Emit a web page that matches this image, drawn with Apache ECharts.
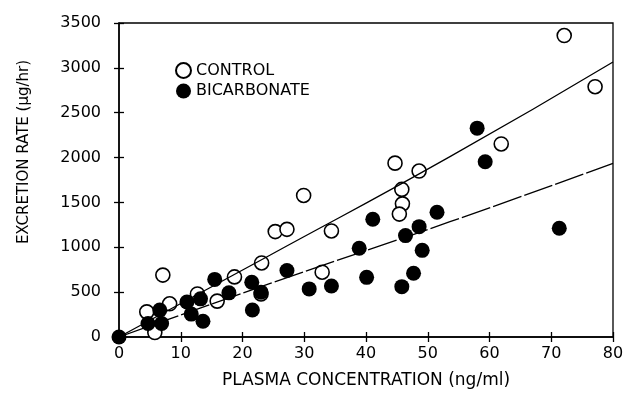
<!DOCTYPE html>
<html>
<head>
<meta charset="utf-8">
<script src="https://cdn.jsdelivr.net/npm/echarts@6/dist/echarts.min.js"></script>
<style>
html,body{margin:0;padding:0;background:#fff;}
#c{width:631px;height:394px;}
</style>
</head>
<body>
<div id="c"></div>
<script>
// Data
var controlData = [
  [4.5, 280], [5.8, 50], [7.1, 690], [8.2, 370], [12.7, 480], [15.9, 400],
  [18.7, 670], [23.1, 825], [23.0, 480], [25.3, 1175], [27.2, 1200], [29.9, 1578],
  [32.9, 722], [34.4, 1182], [44.7, 1938], [45.8, 1645], [45.9, 1484], [45.4, 1370],
  [48.6, 1850], [61.9, 2152], [72.1, 3360], [77.1, 2790]
];
var bicarbData = [
  [0, 0], [4.7, 150], [6.6, 300], [6.9, 150], [11.0, 390], [11.7, 255],
  [13.6, 176], [13.2, 425], [15.5, 642], [17.8, 492], [21.5, 610], [21.6, 301],
  [23.0, 500], [27.2, 742], [30.8, 536], [34.4, 569], [38.9, 989], [40.1, 665],
  [41.1, 1313], [45.8, 561], [46.4, 1130], [47.7, 710], [48.6, 1230], [49.1, 966],
  [51.5, 1390], [58.0, 2328], [59.3, 1954], [71.3, 1212]
];
var controlFit = [[0, 0], [24.5, 914], [53.6, 2010], [80, 3066]];
var bicarbFit = [[0, 0], [24.5, 598], [53.6, 1285], [80, 1936]];
var xTicks = [0, 10, 20, 30, 40, 50, 60, 70, 80];
var yTicks = [0, 500, 1000, 1500, 2000, 2500, 3000, 3500];
var seriesNames = ['CONTROL', 'BICARBONATE'];
var xTitle = 'PLASMA CONCENTRATION (ng/ml)';
var yTitle = 'EXCRETION RATE (\u03bcg/hr)';

var FONT = 'DejaVu Sans';
var chart = echarts.init(document.getElementById('c'), null, {renderer: 'canvas'});

function xAx(inner) {
  return {
    type: 'value', min: xTicks[0], max: xTicks[xTicks.length - 1], interval: xTicks[1] - xTicks[0],
    position: 'bottom',
    axisLine: {show: !inner, onZero: false, lineStyle: {color: '#000', width: 1.5}},
    axisTick: {show: true, inside: inner, length: 5, lineStyle: {color: '#000', width: 1.3}},
    axisLabel: {show: !inner, margin: 9, color: '#000', fontFamily: FONT, fontSize: 16,
      formatter: function (v) { return String(v); }},
    splitLine: {show: false}
  };
}
function yAx(inner) {
  return {
    type: 'value', min: yTicks[0], max: yTicks[yTicks.length - 1], interval: yTicks[1] - yTicks[0],
    position: 'left',
    axisLine: {show: !inner, onZero: false, lineStyle: {color: '#000', width: 1.5}},
    axisTick: {show: true, inside: inner, length: 5, lineStyle: {color: '#000', width: 1.3}},
    axisLabel: {show: !inner, margin: 18, color: '#000', fontFamily: FONT, fontSize: 16,
      formatter: function (v) { return String(v); }},
    splitLine: {show: false}
  };
}

chart.setOption({
  animation: false,
  backgroundColor: '#fff',
  grid: {left: 119, right: 18, top: 23, bottom: 57, show: true, borderColor: '#000', borderWidth: 1.3, backgroundColor: 'transparent'},
  xAxis: [xAx(false), xAx(true)],
  yAxis: [yAx(false), yAx(true)],
  legend: {
    orient: 'vertical', left: 170, top: 57, itemGap: 4, itemWidth: 15, itemHeight: 15,
    icon: 'circle',
    data: seriesNames,
    textStyle: {color: '#000', fontFamily: FONT, fontSize: 16}
  },
  graphic: [
    {type: 'text', x: 366, y: 381, style: {text: xTitle, fill: '#000', font: '17px "DejaVu Sans"', textAlign: 'center', textVerticalAlign: 'middle'}},
    {type: 'text', x: 24, y: 152, rotation: Math.PI / 2, style: {text: yTitle, fill: '#000', font: '15px "DejaVu Sans"', textAlign: 'center', textVerticalAlign: 'middle'}}
  ],
  series: [
    {
      name: seriesNames[0], type: 'scatter', data: controlData, symbol: 'circle', symbolSize: 14, z: 2,
      itemStyle: {color: '#fff', borderColor: '#000', borderWidth: 1.6, opacity: 1}
    },
    {
      name: seriesNames[1], type: 'scatter', data: bicarbData, symbol: 'circle', symbolSize: 15, z: 3,
      itemStyle: {color: '#000', borderColor: '#000', borderWidth: 0, opacity: 1}
    },
    {
      type: 'line', data: controlFit, smooth: true, showSymbol: false, symbol: 'none', z: 4,
      lineStyle: {color: '#000', width: 1.3}
    },
    {
      type: 'line', data: bicarbFit, smooth: true, showSymbol: false, symbol: 'none', z: 4,
      lineStyle: {color: '#000', width: 1.3, type: [30, 3]}
    }
  ]
});
</script>
</body>
</html>
